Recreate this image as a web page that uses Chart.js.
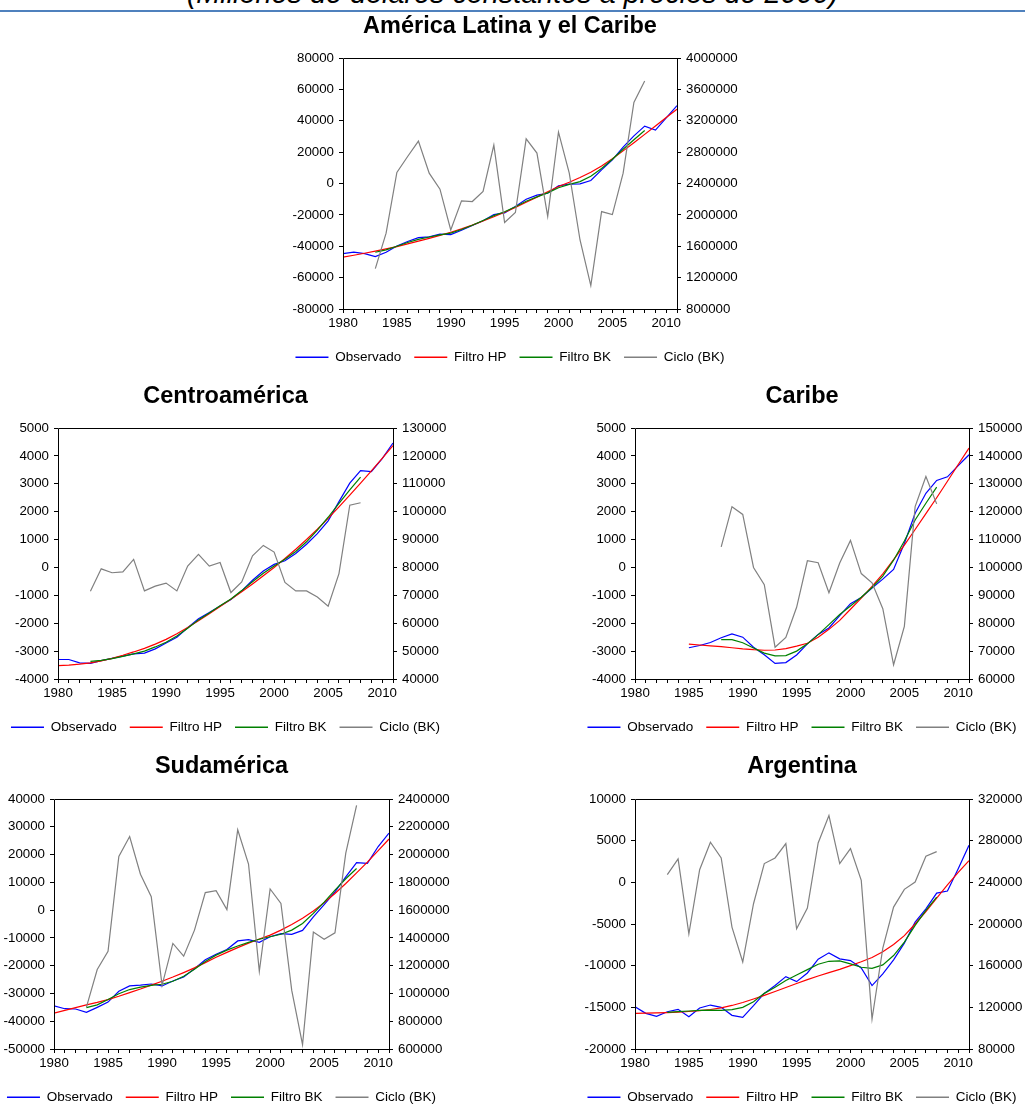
<!DOCTYPE html>
<html lang="es">
<head>
<meta charset="utf-8">
<title>PIB observado, tendencias y ciclo</title>
<script src="https://cdn.jsdelivr.net/npm/chart.js@4.4.1/dist/chart.umd.min.js"></script>
<style>
  html, body { margin: 0; padding: 0; background: #fff; width: 1025px; height: 1104px; overflow: hidden; }
  #page { position: relative; width: 1025px; height: 1104px; overflow: hidden; }
  .subtitle {
    position: absolute; left: 0; top: -21px; width: 1025px; text-align: center;
    font: italic 28.8px "Liberation Sans", Arial, sans-serif; line-height: 28.8px;
    color: #000; white-space: nowrap;
  }
  .rule { position: absolute; left: 0; top: 9.5px; width: 1025px; height: 2.5px; background: #4f81bd; }
  canvas { position: absolute; }
</style>
</head>
<body>
<div id="page">
  <div class="subtitle">(Millones de dólares constantes a precios de 2000)</div>
  <div class="rule"></div>
  <canvas id="chartLA"></canvas>
  <canvas id="chartCA"></canvas>
  <canvas id="chartCB"></canvas>
  <canvas id="chartSA"></canvas>
  <canvas id="chartAR"></canvas>
</div>
<script>
// Years on the horizontal axis
const YEARS = [1980, 1981, 1982, 1983, 1984, 1985, 1986, 1987, 1988, 1989,
               1990, 1991, 1992, 1993, 1994, 1995, 1996, 1997, 1998, 1999,
               2000, 2001, 2002, 2003, 2004, 2005, 2006, 2007, 2008, 2009,
               2010, 2011];

// América Latina y el Caribe: levels (right axis) and BK cycle (left axis)
const LA_OBS = [1506000, 1524000, 1506000, 1468000, 1524000, 1604000, 1660000, 1710000, 1720000, 1754000,
                1748000, 1804000, 1864000, 1924000, 2004000, 2026000, 2106000, 2200000, 2252000, 2276000,
                2370000, 2392000, 2396000, 2438000, 2574000, 2702000, 2864000, 3008000, 3132000, 3080000,
                3238000, 3392000];
const LA_HP = [1460000, 1485000, 1511000, 1537000, 1566000, 1596000, 1630000, 1665000, 1701000, 1739000,
               1778000, 1822000, 1870000, 1922000, 1976000, 2034000, 2096000, 2160000, 2226000, 2294000,
               2362000, 2416000, 2476000, 2544000, 2624000, 2716000, 2816000, 2920000, 3026000, 3134000,
               3242000, 3348000];
const LA_BK = [null, null, null, 1524000, 1554000, 1600000, 1648000, 1688000, 1718000, 1744000,
               1768000, 1814000, 1868000, 1928000, 1990000, 2040000, 2104000, 2174000, 2230000, 2280000,
               2346000, 2388000, 2424000, 2492000, 2592000, 2710000, 2836000, 2958000, 3076000, null,
               null, null];
const LA_CYCLE = [null, null, null, -54300, -31700, 7000, 17200, 27000, 6600, -3600,
                  -29600, -11100, -11500, -5100, 24500, -24900, -18500, 28500, 19400, -21000,
                  32800, 6600, -36000, -65100, -17900, -19800, 6600, 51700, 65300, null,
                  null, null];
const LA_LEFT_TICKS = [-80000, -60000, -40000, -20000, 0, 20000, 40000, 60000, 80000];
const LA_RIGHT_TICKS = [800000, 1200000, 1600000, 2000000, 2400000, 2800000, 3200000, 3600000, 4000000];

// Centroamérica
const CA_OBS = [47000, 47000, 45800, 45600, 46600, 47400, 48200, 49000, 49300, 50800,
                52900, 55000, 58400, 61600, 63800, 66200, 68500, 71600, 75400, 78700,
                81100, 82400, 85000, 88300, 92100, 96700, 103600, 110200, 114700, 114400,
                119000, 124600];
const CA_HP = [44800, 45000, 45300, 45800, 46500, 47400, 48500, 49700, 51000, 52500,
               54200, 56200, 58500, 60900, 63400, 66000, 68600, 71300, 74100, 77000,
               80000, 83200, 86500, 90000, 93700, 97600, 101700, 105900, 110200, 114600,
               119100, 123700];
const CA_BK = [null, null, null, 46300, 46700, 47300, 48100, 49000, 50000, 51500,
               53200, 55400, 58200, 61200, 63700, 66300, 68700, 71700, 74900, 77900,
               80500, 82900, 85700, 89200, 93400, 98000, 103000, 107800, 112400, null,
               null, null];
const CA_CYCLE = [null, null, null, -850, -50, -190, -160, 290, -840, -670,
                  -560, -840, 50, 470, 50, 180, -900, -520, 420, 790,
                  550, -540, -840, -840, -1060, -1390, -220, 2230, 2320, null,
                  null, null];
const CA_LEFT_TICKS = [-4000, -3000, -2000, -1000, 0, 1000, 2000, 3000, 4000, 5000];
const CA_RIGHT_TICKS = [40000, 50000, 60000, 70000, 80000, 90000, 100000, 110000, 120000, 130000];

// Caribe (series start in 1985)
const CB_OBS = [null, null, null, null, null, 71200, 72000, 73100, 74800, 76200,
                75000, 71400, 68700, 65600, 65900, 68600, 72600, 76000, 78300, 82700,
                87000, 89200, 92600, 95800, 99300, 108600, 119400, 126600, 131200, 132500,
                136500, 140400];
const CB_HP = [null, null, null, null, null, 72500, 72200, 71900, 71600, 71200,
               70800, 70500, 70300, 70400, 70900, 71800, 72800, 75000, 77800, 81000,
               85000, 89000, 93200, 97700, 102800, 108000, 113600, 119300, 125000, 130900,
               136900, 142800];
const CB_BK = [null, null, null, null, null, null, null, null, 74100, 74100,
               73000, 71100, 69300, 68300, 68400, 70000, 72600, 75900, 79500, 83100,
               86200, 89300, 92800, 96900, 102600, 109500, 117000, 123000, 128800, null,
               null, null];
const CB_CYCLE = [null, null, null, null, null, null, null, null, 740, 2180,
                  1900, 0, -620, -2860, -2510, -1430, 240, 170, -910, 160,
                  970, -220, -550, -1480, -3490, -2110, 2180, 3260, 2280, null,
                  null, null];
const CB_LEFT_TICKS = [-4000, -3000, -2000, -1000, 0, 1000, 2000, 3000, 4000, 5000];
const CB_RIGHT_TICKS = [60000, 70000, 80000, 90000, 100000, 110000, 120000, 130000, 140000, 150000];

// Sudamérica
const SA_OBS = [910000, 890000, 888000, 864000, 900000, 938000, 1016000, 1054000, 1060000, 1068000,
                1054000, 1090000, 1118000, 1178000, 1242000, 1282000, 1316000, 1378000, 1388000, 1368000,
                1408000, 1430000, 1426000, 1454000, 1552000, 1640000, 1732000, 1840000, 1942000, 1936000,
                2058000, 2154000];
const SA_HP = [858000, 878000, 898000, 918000, 936000, 956000, 980000, 1006000, 1032000, 1060000,
               1088000, 1118000, 1150000, 1184000, 1222000, 1260000, 1296000, 1330000, 1362000, 1392000,
               1420000, 1456000, 1496000, 1542000, 1594000, 1654000, 1720000, 1792000, 1868000, 1946000,
               2028000, 2112000];
const SA_BK = [null, null, null, 898000, 918000, 956000, 998000, 1028000, 1046000, 1058000,
               1066000, 1088000, 1124000, 1174000, 1230000, 1276000, 1312000, 1342000, 1368000, 1390000,
               1408000, 1426000, 1456000, 1504000, 1576000, 1658000, 1744000, 1826000, 1900000, null,
               null, null];
const SA_CYCLE = [null, null, null, -34900, -21400, -14800, 19300, 26500, 12900, 4800,
                  -27100, -12000, -16600, -7200, 6300, 7000, 200, 28900, 16600, -22000,
                  7600, 2400, -28900, -48400, -7900, -10500, -8200, 20500, 37700, null,
                  null, null];
const SA_LEFT_TICKS = [-50000, -40000, -30000, -20000, -10000, 0, 10000, 20000, 30000, 40000];
const SA_RIGHT_TICKS = [600000, 800000, 1000000, 1200000, 1400000, 1600000, 1800000, 2000000, 2200000, 2400000];

// Argentina
const AR_OBS = [120600, 114200, 111300, 115800, 118100, 111000, 119400, 122200, 120000, 112300,
                110400, 121600, 133400, 140900, 149500, 144700, 153000, 166200, 172300, 166500,
                164900, 157800, 140900, 152100, 165600, 181600, 201800, 214600, 229700, 231700,
                253100, 275600];
const AR_HP = [114200, 114400, 114600, 114900, 115400, 116000, 116800, 117900, 119500, 121800,
               124600, 128000, 131500, 135200, 139000, 142900, 146600, 150100, 153300, 156500,
               160000, 163700, 167800, 173400, 180300, 188800, 200000, 212000, 224800, 237600,
               249600, 260800];
const AR_BK = [null, null, null, 115200, 115800, 116500, 117100, 117400, 117100, 117800,
               120000, 125400, 133400, 139300, 145700, 151100, 156200, 161400, 164200, 164600,
               161700, 158500, 157500, 160700, 169700, 182600, 198600, 213000, 225800, null,
               null, null];
const AR_CYCLE = [null, null, null, 920, 2810, -6180, 1520, 4810, 2930, -5370,
                  -9550, -2570, 2250, 2930, 4650, -5580, -3090, 4730, 8020, 2250,
                  4050, 240, -16400, -7900, -2970, -840, 40, 3130, 3690, null,
                  null, null];
const AR_LEFT_TICKS = [-20000, -15000, -10000, -5000, 0, 5000, 10000];
const AR_RIGHT_TICKS = [80000, 120000, 160000, 200000, 240000, 280000, 320000];

const SERIES_NAMES = ['Observado', 'Filtro HP', 'Filtro BK', 'Ciclo (BK)'];
const SERIES_COLORS = ['#0000ff', '#ff0000', '#008000', '#808080'];

const FONT = '"Liberation Sans", Arial, Helvetica, sans-serif';
Chart.defaults.font.family = FONT;
Chart.defaults.color = '#000';

// Pair each year with its value (null keeps the gap where a series has no data)
function series(values) {
  return YEARS.map((yr, i) => ({ x: yr, y: values[i] }));
}

// Force an axis to use exactly the given tick values
function fixedTicks(list) {
  return scale => { scale.ticks = list.map(v => ({ value: v })); };
}

// Closed box around the plotting area
const plotFrame = {
  id: 'plotFrame',
  afterDatasetsDraw(chart) {
    const { ctx, chartArea: a } = chart;
    const al = p => Math.round(p - 0.5) + 0.5;
    ctx.save();
    ctx.strokeStyle = '#000';
    ctx.lineWidth = 1;
    ctx.beginPath();
    ctx.rect(al(a.left), al(a.top), al(a.right) - al(a.left), al(a.bottom) - al(a.top));
    ctx.stroke();
    ctx.restore();
  }
};

function buildPanel(canvasId, box, spec) {
  const el = document.getElementById(canvasId);
  el.style.left = box.left + 'px';
  el.style.top = box.top + 'px';
  el.width = box.width;
  el.height = box.height;

  const tickFont = { family: FONT, size: 13.3 };
  const grid = { drawOnChartArea: false, drawTicks: true, tickLength: 4, color: '#000', lineWidth: 1 };
  const values = [spec.obs, spec.hp, spec.bk, spec.cycle];

  const datasets = values.map((vals, i) => ({
    label: SERIES_NAMES[i],
    data: series(vals),
    yAxisID: i === 3 ? 'yCycle' : 'yLevel',
    borderColor: SERIES_COLORS[i],
    backgroundColor: SERIES_COLORS[i],
    borderWidth: 1.2,
    pointRadius: 0,
    tension: 0,
    spanGaps: false,
    order: 4 - i
  }));

  return new Chart(el, {
    type: 'line',
    data: { datasets },
    options: {
      responsive: false,
      animation: false,
      devicePixelRatio: 1,
      layout: { padding: 0 },
      plugins: {
        title: {
          display: true,
          text: spec.title,
          color: '#000',
          font: { family: FONT, size: 23.5, weight: 'bold', lineHeight: 1.2 },
          padding: { top: 0, bottom: box.titleGap }
        },
        legend: {
          position: 'bottom',
          labels: {
            boxWidth: 33,
            boxHeight: 1.5,
            padding: 13,
            color: '#000',
            font: { family: FONT, size: 13.5 },
            sort: (a, b) => a.datasetIndex - b.datasetIndex,
            generateLabels: chart =>
              Chart.defaults.plugins.legend.labels.generateLabels(chart).map(item => ({
                ...item, fillStyle: item.strokeStyle, lineWidth: 0
              }))
          }
        },
        tooltip: { enabled: false }
      },
      scales: {
        x: {
          type: 'linear',
          min: YEARS[0],
          max: YEARS[YEARS.length - 1],
          afterBuildTicks: fixedTicks(YEARS),
          afterFit: s => { s.height = box.xAxisHeight; },
          grid,
          border: { display: false },
          ticks: {
            autoSkip: false, maxRotation: 0, minRotation: 0, padding: 2,
            font: tickFont, color: '#000',
            callback: v => (v % 5 === 0 ? String(v) : '')
          }
        },
        yCycle: {
          type: 'linear',
          position: 'left',
          min: spec.leftTicks[0],
          max: spec.leftTicks[spec.leftTicks.length - 1],
          afterBuildTicks: fixedTicks(spec.leftTicks),
          afterFit: s => { s.width = box.leftAxis; },
          grid,
          border: { display: false },
          ticks: { padding: 5, font: tickFont, color: '#000', callback: v => String(v) }
        },
        yLevel: {
          type: 'linear',
          position: 'right',
          min: spec.rightTicks[0],
          max: spec.rightTicks[spec.rightTicks.length - 1],
          afterBuildTicks: fixedTicks(spec.rightTicks),
          afterFit: s => { s.width = box.rightAxis; },
          grid,
          border: { display: false },
          ticks: { padding: 5, font: tickFont, color: '#000', callback: v => String(v) }
        }
      }
    },
    plugins: [plotFrame]
  });
}

buildPanel('chartLA',
  { left: 253, top: 12, width: 514, height: 362, leftAxis: 90, rightAxis: 90, titleGap: 17.8, xAxisHeight: 28.5 },
  { title: 'América Latina y el Caribe', obs: LA_OBS, hp: LA_HP, bk: LA_BK, cycle: LA_CYCLE,
    leftTicks: LA_LEFT_TICKS, rightTicks: LA_RIGHT_TICKS });

buildPanel('chartCA',
  { left: -10, top: 382, width: 471, height: 362, leftAxis: 68, rightAxis: 68, titleGap: 17.8, xAxisHeight: 28.5 },
  { title: 'Centroamérica', obs: CA_OBS, hp: CA_HP, bk: CA_BK, cycle: CA_CYCLE,
    leftTicks: CA_LEFT_TICKS, rightTicks: CA_RIGHT_TICKS });

buildPanel('chartCB',
  { left: 567, top: 382, width: 470, height: 362, leftAxis: 68, rightAxis: 68, titleGap: 17.8, xAxisHeight: 28.5 },
  { title: 'Caribe', obs: CB_OBS, hp: CB_HP, bk: CB_BK, cycle: CB_CYCLE,
    leftTicks: CB_LEFT_TICKS, rightTicks: CB_RIGHT_TICKS });

buildPanel('chartSA',
  { left: -11, top: 752, width: 465, height: 362, leftAxis: 65, rightAxis: 65, titleGap: 18.8, xAxisHeight: 28.5 },
  { title: 'Sudamérica', obs: SA_OBS, hp: SA_HP, bk: SA_BK, cycle: SA_CYCLE,
    leftTicks: SA_LEFT_TICKS, rightTicks: SA_RIGHT_TICKS });

buildPanel('chartAR',
  { left: 567, top: 752, width: 470, height: 362, leftAxis: 68, rightAxis: 68, titleGap: 18.8, xAxisHeight: 28.5 },
  { title: 'Argentina', obs: AR_OBS, hp: AR_HP, bk: AR_BK, cycle: AR_CYCLE,
    leftTicks: AR_LEFT_TICKS, rightTicks: AR_RIGHT_TICKS });
</script>
</body>
</html>
